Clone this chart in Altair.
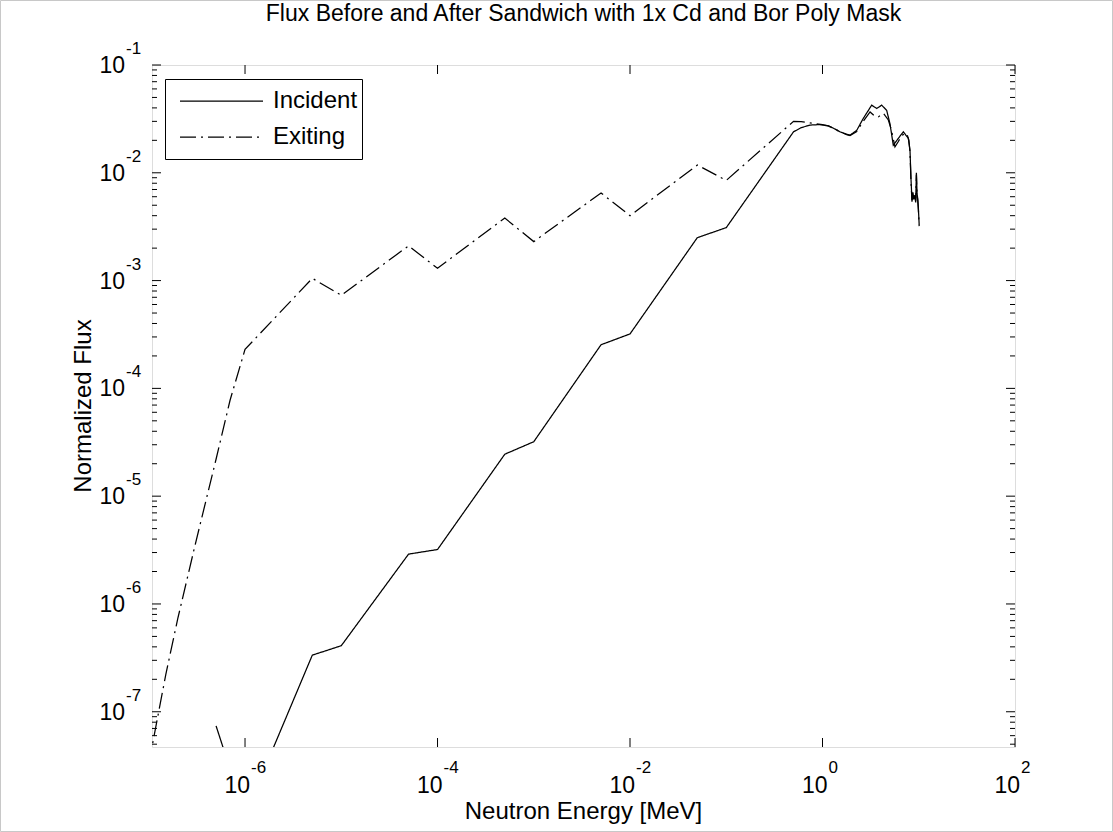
import altair as alt
import pandas as pd

# ---------------- data ----------------
inc_energy = [5e-7, 1e-6, 5e-6, 1e-5, 5e-5, 1e-4, 5e-4, 1e-3, 5e-3, 1e-2, 5e-2, 1e-1,
              0.5, 0.6, 0.74, 0.94, 1.15, 1.29, 1.52, 1.78, 1.93, 2.27, 2.65, 3.0, 3.24,
              3.66, 4.12, 4.64, 5.02, 5.44, 6.14, 6.91, 7.79, 8.11, 8.3, 8.5, 8.7, 8.9,
              9.1, 9.3, 9.45, 9.6, 9.75, 9.9, 10.1]
inc_flux = [7.4e-8, 1.1e-8, 3.35e-7, 4.1e-7, 2.9e-6, 3.2e-6, 2.45e-5, 3.2e-5, 2.54e-4, 3.2e-4,
            2.5e-3, 3.1e-3, 2.4e-2, 2.62e-2, 2.77e-2, 2.8e-2, 2.72e-2, 2.6e-2, 2.4e-2, 2.28e-2,
            2.23e-2, 2.48e-2, 3.19e-2, 3.8e-2, 4.24e-2, 3.95e-2, 4.24e-2, 3.8e-2, 2.86e-2,
            1.8e-2, 2.09e-2, 2.4e-2, 2.09e-2, 1.62e-2, 8.9e-3, 5.6e-3, 6.6e-3, 5.7e-3, 6.2e-3,
            5.5e-3, 1.0e-2, 6.4e-3, 5.8e-3, 4.8e-3, 3.3e-3]

exi_energy = [1e-7, 1.5e-7, 2e-7, 3e-7, 5e-7, 7e-7, 1e-6, 5e-6, 1e-5, 5e-5, 1e-4, 5e-4, 1e-3,
              5e-3, 1e-2, 5e-2, 1e-1, 0.5, 0.6, 0.79, 1.0, 1.15, 1.29, 1.52, 1.78, 1.93, 2.27,
              2.65, 3.12, 3.5, 3.8, 4.29, 4.83, 5.2, 5.66, 6.14, 6.65, 7.5, 7.9, 8.11, 8.3,
              8.5, 8.7, 8.9, 9.1, 9.3, 9.45, 9.6, 9.75, 9.9, 10.1]
exi_flux = [3.3e-8, 2.2e-7, 7.3e-7, 3.4e-6, 2.2e-5, 7.8e-5, 2.3e-4, 1.05e-3, 7.3e-4, 2.1e-3,
            1.3e-3, 3.8e-3, 2.3e-3, 6.5e-3, 4.0e-3, 1.18e-2, 8.5e-3, 3.0e-2, 2.98e-2, 2.88e-2,
            2.8e-2, 2.72e-2, 2.6e-2, 2.4e-2, 2.26e-2, 2.22e-2, 2.42e-2, 3.0e-2, 3.67e-2,
            3.35e-2, 3.3e-2, 3.56e-2, 3.09e-2, 2.5e-2, 1.74e-2, 1.95e-2, 2.23e-2, 2.32e-2,
            2.0e-2, 1.55e-2, 8.5e-3, 5.4e-3, 6.3e-3, 5.5e-3, 6.0e-3, 5.3e-3, 9.6e-3, 6.2e-3,
            5.6e-3, 4.6e-3, 3.2e-3]

series_names = ["Incident", "Exiting"]

x_tick_values = [1e-6, 1e-4, 1e-2, 1.0, 100.0]
x_tick_exps = ["-6", "-4", "-2", "0", "2"]
y_tick_values = [1e-7, 1e-6, 1e-5, 1e-4, 1e-3, 1e-2, 1e-1]
y_tick_exps = ["-7", "-6", "-5", "-4", "-3", "-2", "-1"]
minor_mults = [2, 3, 4, 5, 6, 7, 8, 9]
minor_decades = [1e-8, 1e-7, 1e-6, 1e-5, 1e-4, 1e-3, 1e-2]

TITLE = "Flux Before and After Sandwich with 1x Cd and Bor Poly Mask"
X_TITLE = "Neutron Energy [MeV]"
Y_TITLE = "Normalized Flux"

# ---------------- layout ----------------
W, H = 863, 682
XMIN, XMAX = 1.08e-7, 100.0
YMIN, YMAX = 4.71e-8, 0.1
FONT = "Liberation Sans"
MAJ, MIN = 9, 5
LW = 1.25

df = pd.concat([
    pd.DataFrame({"energy": inc_energy, "flux": inc_flux, "series": series_names[0]}),
    pd.DataFrame({"energy": exi_energy, "flux": exi_flux, "series": series_names[1]}),
])

y_minor = [m * d for d in minor_decades for m in minor_mults if YMIN <= m * d <= YMAX]

xscale = alt.Scale(type="log", domain=[XMIN, XMAX], nice=False)
yscale = alt.Scale(type="log", domain=[YMIN, YMAX], nice=False)

lines = alt.Chart(df).mark_line(clip=True, color="black", strokeWidth=LW).encode(
    x=alt.X("energy:Q", scale=xscale, axis=None),
    y=alt.Y("flux:Q", scale=yscale, axis=None),
    strokeDash=alt.StrokeDash(
        "series:N",
        scale=alt.Scale(domain=series_names, range=[[1, 0], [16, 5, 2, 5]]),
        legend=alt.Legend(title=None, orient="none", legendX=13, legendY=14,
                          strokeColor="black", fillColor="white", padding=4,
                          symbolType="stroke", symbolSize=83 * 83, symbolStrokeWidth=LW,
                          symbolStrokeColor="black", symbolOffset=10,
                          labelFont=FONT, labelFontSize=24, labelColor="black",
                          labelOffset=9, clipHeight=36, rowPadding=0, labelLimit=0),
    ),
)

dx_major = pd.DataFrame({"v": x_tick_values, "exp": x_tick_exps, "base": "10"})
dy_major = pd.DataFrame({"v": y_tick_values, "exp": y_tick_exps, "base": "10"})
dy_minor = pd.DataFrame({"v": y_minor})

xs = alt.X("v:Q", scale=xscale, axis=None)
ys = alt.Y("v:Q", scale=yscale, axis=None)

rule = dict(color="black", strokeWidth=1)
ticks = [
    alt.Chart(dx_major).mark_rule(**rule).encode(x=xs, y=alt.value(H), y2=alt.value(H - MAJ)),
    alt.Chart(dx_major).mark_rule(**rule).encode(x=xs, y=alt.value(0), y2=alt.value(MAJ)),
    alt.Chart(dy_major).mark_rule(**rule).encode(y=ys, x=alt.value(0), x2=alt.value(MAJ)),
    alt.Chart(dy_major).mark_rule(**rule).encode(y=ys, x=alt.value(W), x2=alt.value(W - MAJ)),
    alt.Chart(dy_minor).mark_rule(**rule).encode(y=ys, x=alt.value(0), x2=alt.value(MIN)),
    alt.Chart(dy_minor).mark_rule(**rule).encode(y=ys, x=alt.value(W), x2=alt.value(W - MIN)),
]

labels = [
    alt.Chart(dx_major).mark_text(align="right", baseline="alphabetic", dx=5, font=FONT,
                                  fontSize=23, color="black").encode(
        x=xs, y=alt.value(H + 46), text="base:N"),
    alt.Chart(dx_major).mark_text(align="left", baseline="alphabetic", dx=6, font=FONT,
                                  fontSize=17, color="black").encode(
        x=xs, y=alt.value(H + 26), text="exp:N"),
    alt.Chart(dy_major).mark_text(align="right", baseline="alphabetic", dy=8, font=FONT,
                                  fontSize=23, color="black").encode(
        y=ys, x=alt.value(-27), text="base:N"),
    alt.Chart(dy_major).mark_text(align="left", baseline="alphabetic", dy=-11, font=FONT,
                                  fontSize=17, color="black").encode(
        y=ys, x=alt.value(-26), text="exp:N"),
]

txt = dict(font=FONT, color="black", align="center", baseline="middle")
titles = [
    alt.Chart(pd.DataFrame({"t": [TITLE]})).mark_text(fontSize=23, **txt).encode(
        text="t:N", x=alt.value(W / 2), y=alt.value(-51)),
    alt.Chart(pd.DataFrame({"t": [X_TITLE]})).mark_text(fontSize=24, **txt).encode(
        text="t:N", x=alt.value(W / 2), y=alt.value(H + 65)),
    alt.Chart(pd.DataFrame({"t": [Y_TITLE]})).mark_text(angle=270, fontSize=24, **txt).encode(
        text="t:N", x=alt.value(-68), y=alt.value(H / 2)),
]

border = alt.Chart(pd.DataFrame({"k": [0]})).mark_rect(
    fill=None, stroke="#c8c8c8", strokeWidth=1).encode(
    x=alt.value(-151.5), x2=alt.value(W + 97.5), y=alt.value(-64.5), y2=alt.value(H + 84.5))

chart = alt.layer(lines, *ticks, *labels, *titles, border).properties(
    width=W, height=H,
    autosize=alt.AutoSizeParams(type="none"),
    padding={"left": 152, "top": 65, "right": 98, "bottom": 85},
).configure_view(stroke="black", strokeWidth=1).configure(background="white")

chart.save("out.html", embed_options={"renderer": "svg", "actions": False})
